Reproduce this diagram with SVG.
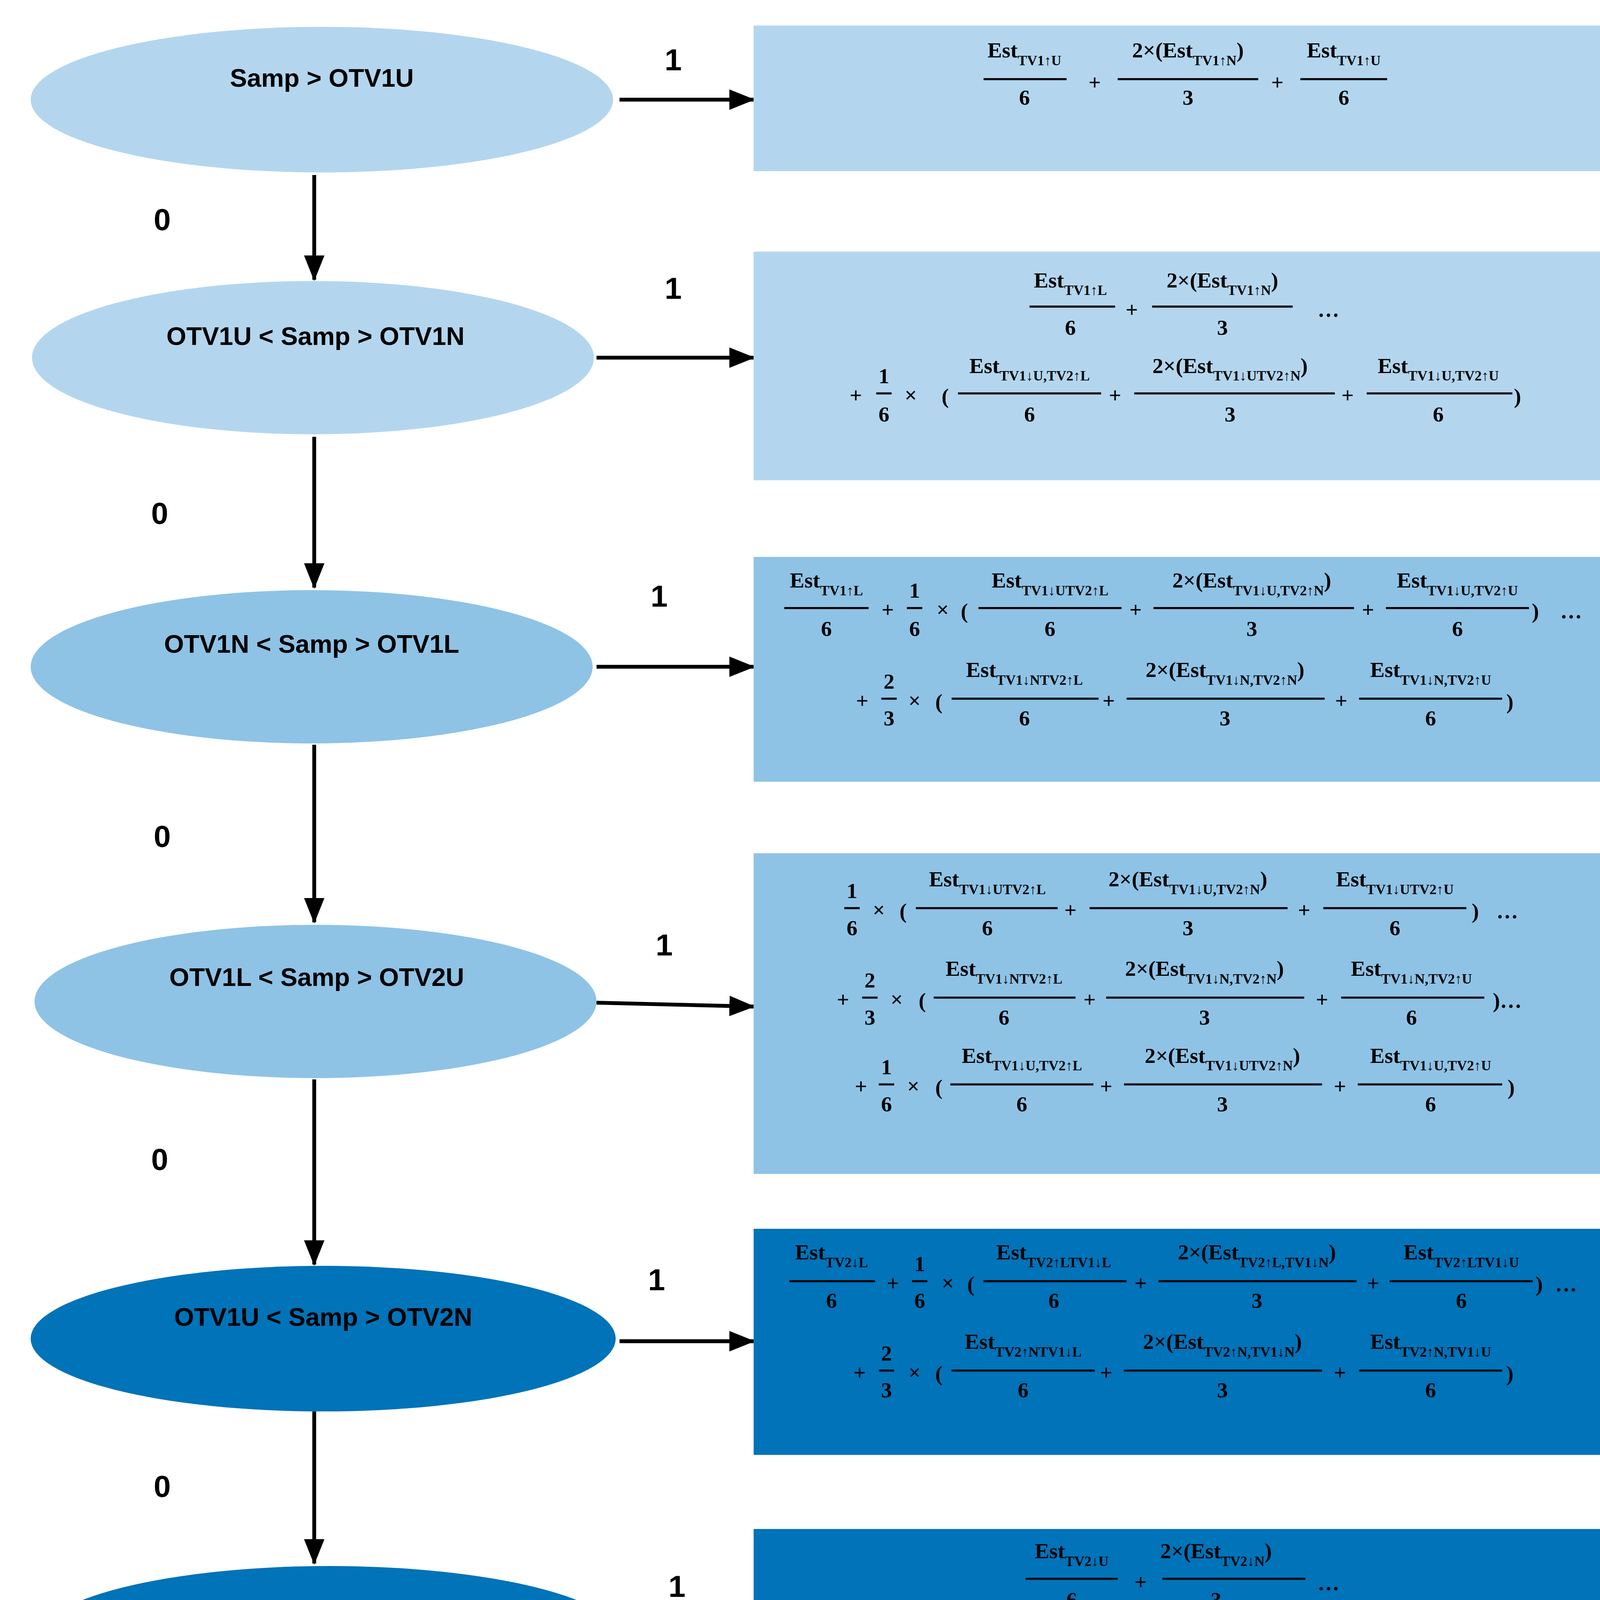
<svg xmlns="http://www.w3.org/2000/svg" width="4185" height="5118" viewBox="0 0 4185 5118">
<style>
.lb{font-family:"Liberation Sans",Arial,sans-serif;font-weight:bold;font-size:20px;fill:#000;text-anchor:middle}
.n{font-family:"Liberation Sans",Arial,sans-serif;font-weight:bold;font-size:24px;fill:#000;text-anchor:middle}
.m{font-family:"Liberation Serif","DejaVu Serif",serif;font-weight:bold;font-size:17px;fill:#000;text-anchor:middle}
.s{font-size:11px}
.fl{stroke:#000;stroke-width:1.6}
.c{stroke:#000;stroke-width:3;fill:none;marker-end:url(#ah)}
.l1{fill:#b3d6ee}.l2{fill:#8ec3e6}.l3{fill:#0073b9}.l4{fill:#004b78}
</style>
<defs>
<marker id="ah" markerUnits="userSpaceOnUse" markerWidth="20" markerHeight="18" refX="19" refY="8" orient="auto"><path d="M0,0 L20,8 L0,16 Z" fill="#000"/></marker>
</defs>
<rect width="4185" height="5118" fill="#fff"/>
<g transform="scale(3.27)">
<g id="connectors">
<line class="c" x1="485" y1="78" x2="590" y2="78"/>
<line class="c" x1="246" y1="137" x2="246" y2="219"/>
<line class="c" x1="467" y1="280" x2="590" y2="280"/>
<line class="c" x1="246" y1="342" x2="246" y2="460"/>
<line class="c" x1="467" y1="522" x2="590" y2="522"/>
<line class="c" x1="246" y1="583" x2="246" y2="722"/>
<line class="c" x1="467" y1="785" x2="590" y2="788"/>
<line class="c" x1="246" y1="845" x2="246" y2="990"/>
<line class="c" x1="485" y1="1050" x2="590" y2="1050"/>
<line class="c" x1="246" y1="1105" x2="246" y2="1224"/>
<line class="c" x1="487" y1="1284" x2="590" y2="1284"/>
<path class="c" d="M242,1340 L242,1494 L590,1494"/>
<text class="n" x="527" y="55">1</text><text class="n" x="127" y="180">0</text>
<text class="n" x="527" y="234">1</text><text class="n" x="125" y="410">0</text>
<text class="n" x="516" y="475">1</text><text class="n" x="127" y="663">0</text>
<text class="n" x="520" y="748">1</text><text class="n" x="125" y="916">0</text>
<text class="n" x="514" y="1010">1</text><text class="n" x="127" y="1172">0</text>
<text class="n" x="530" y="1250">1</text><text class="n" x="125" y="1443">0</text>
</g>
<g id="n1"><ellipse class="l1" cx="252" cy="78" rx="228" ry="57"/><text class="lb" x="252" y="68">Samp &gt; OTV1U</text></g>
<g id="n2"><ellipse class="l1" cx="245" cy="280" rx="220" ry="60"/><text class="lb" x="247" y="270">OTV1U &lt; Samp &gt; OTV1N</text></g>
<g id="n3"><ellipse class="l2" cx="244" cy="522" rx="220" ry="60"/><text class="lb" x="244" y="511">OTV1N &lt; Samp &gt; OTV1L</text></g>
<g id="n4"><ellipse class="l2" cx="247" cy="784" rx="220" ry="60"/><text class="lb" x="248" y="772">OTV1L &lt; Samp &gt; OTV2U</text></g>
<g id="n5"><ellipse class="l3" cx="253" cy="1048" rx="229" ry="57"/><text class="lb" x="253" y="1038">OTV1U &lt; Samp &gt; OTV2N</text></g>
<g id="n6"><ellipse class="l3" cx="258" cy="1284" rx="230" ry="58"/><text class="lb" x="258" y="1275">OTV1N &lt; Samp &gt; OTV2L</text></g>

<g id="b1"><rect class="l1" x="590" y="20" width="678" height="114"/>
<text class="m" x="802" y="45">Est<tspan class="s" dy="6">TV1↑U</tspan></text><line class="fl" x1="770" x2="835" y1="62" y2="62"/><text class="m" x="802" y="82">6</text>
<text class="m" x="857" y="70">+</text>
<text class="m" x="930" y="45">2×(Est<tspan class="s" dy="6">TV1↑N</tspan><tspan dy="-6">)</tspan></text><line class="fl" x1="875" x2="985" y1="62" y2="62"/><text class="m" x="930" y="82">3</text>
<text class="m" x="1000" y="70">+</text>
<text class="m" x="1052" y="45">Est<tspan class="s" dy="6">TV1↑U</tspan></text><line class="fl" x1="1018" x2="1086" y1="62" y2="62"/><text class="m" x="1052" y="82">6</text>
</g>

<g id="b2"><rect class="l1" x="590" y="197" width="680" height="179"/>
<text class="m" x="838" y="225">Est<tspan class="s" dy="6">TV1↑L</tspan></text><line class="fl" x1="806" x2="873" y1="240" y2="240"/><text class="m" x="838" y="262">6</text>
<text class="m" x="886" y="248">+</text>
<text class="m" x="957" y="225">2×(Est<tspan class="s" dy="6">TV1↑N</tspan><tspan dy="-6">)</tspan></text><line class="fl" x1="902" x2="1012" y1="240" y2="240"/><text class="m" x="957" y="262">3</text>
<text class="m" x="1040" y="248">…</text>
<text class="m" x="670" y="315">+</text>
<text class="m" x="692" y="300">1</text><line class="fl" x1="686" x2="698" y1="308" y2="308"/><text class="m" x="692" y="330">6</text>
<text class="m" x="713" y="315">×</text><text class="m" x="740" y="316">(</text>
<text class="m" x="806" y="292">Est<tspan class="s" dy="6">TV1↓U,TV2↑L</tspan></text><line class="fl" x1="750" x2="862" y1="308" y2="308"/><text class="m" x="806" y="330">6</text>
<text class="m" x="873" y="315">+</text>
<text class="m" x="963" y="292">2×(Est<tspan class="s" dy="6">TV1↓UTV2↑N</tspan><tspan dy="-6">)</tspan></text><line class="fl" x1="888" x2="1045" y1="308" y2="308"/><text class="m" x="963" y="330">3</text>
<text class="m" x="1055" y="315">+</text>
<text class="m" x="1126" y="292">Est<tspan class="s" dy="6">TV1↓U,TV2↑U</tspan></text><line class="fl" x1="1070" x2="1184" y1="308" y2="308"/><text class="m" x="1126" y="330">6</text>
<text class="m" x="1188" y="316">)</text>
</g>

<g id="b3"><rect class="l2" x="590" y="436" width="680" height="176"/>
<text class="m" x="647" y="460">Est<tspan class="s" dy="6">TV1↑L</tspan></text><line class="fl" x1="614" x2="680" y1="476" y2="476"/><text class="m" x="647" y="498">6</text>
<text class="m" x="695" y="483">+</text>
<text class="m" x="716" y="468">1</text><line class="fl" x1="710" x2="722" y1="476" y2="476"/><text class="m" x="716" y="498">6</text>
<text class="m" x="738" y="483">×</text><text class="m" x="755" y="484">(</text>
<text class="m" x="822" y="460">Est<tspan class="s" dy="6">TV1↓UTV2↑L</tspan></text><line class="fl" x1="766" x2="878" y1="476" y2="476"/><text class="m" x="822" y="498">6</text>
<text class="m" x="889" y="483">+</text>
<text class="m" x="980" y="460">2×(Est<tspan class="s" dy="6">TV1↓U,TV2↑N</tspan><tspan dy="-6">)</tspan></text><line class="fl" x1="903" x2="1060" y1="476" y2="476"/><text class="m" x="980" y="498">3</text>
<text class="m" x="1071" y="483">+</text>
<text class="m" x="1141" y="460">Est<tspan class="s" dy="6">TV1↓U,TV2↑U</tspan></text><line class="fl" x1="1085" x2="1197" y1="476" y2="476"/><text class="m" x="1141" y="498">6</text>
<text class="m" x="1202" y="484">)</text><text class="m" x="1230" y="484">…</text>
<text class="m" x="675" y="554">+</text>
<text class="m" x="696" y="539">2</text><line class="fl" x1="690" x2="702" y1="547" y2="547"/><text class="m" x="696" y="568">3</text>
<text class="m" x="716" y="554">×</text><text class="m" x="735" y="555">(</text>
<text class="m" x="802" y="530">Est<tspan class="s" dy="6">TV1↓NTV2↑L</tspan></text><line class="fl" x1="745" x2="860" y1="547" y2="547"/><text class="m" x="802" y="568">6</text>
<text class="m" x="868" y="554">+</text>
<text class="m" x="959" y="530">2×(Est<tspan class="s" dy="6">TV1↓N,TV2↑N</tspan><tspan dy="-6">)</tspan></text><line class="fl" x1="882" x2="1037" y1="547" y2="547"/><text class="m" x="959" y="568">3</text>
<text class="m" x="1050" y="554">+</text>
<text class="m" x="1120" y="530">Est<tspan class="s" dy="6">TV1↓N,TV2↑U</tspan></text><line class="fl" x1="1064" x2="1176" y1="547" y2="547"/><text class="m" x="1120" y="568">6</text>
<text class="m" x="1182" y="555">)</text>
</g>

<g id="b4"><rect class="l2" x="590" y="668" width="675" height="251"/>
<text class="m" x="667" y="703">1</text><line class="fl" x1="661" x2="673" y1="711" y2="711"/><text class="m" x="667" y="732">6</text>
<text class="m" x="688" y="718">×</text><text class="m" x="707" y="719">(</text>
<text class="m" x="773" y="694">Est<tspan class="s" dy="6">TV1↓UTV2↑L</tspan></text><line class="fl" x1="717" x2="828" y1="711" y2="711"/><text class="m" x="773" y="732">6</text>
<text class="m" x="838" y="718">+</text>
<text class="m" x="930" y="694">2×(Est<tspan class="s" dy="6">TV1↓U,TV2↑N</tspan><tspan dy="-6">)</tspan></text><line class="fl" x1="853" x2="1008" y1="711" y2="711"/><text class="m" x="930" y="732">3</text>
<text class="m" x="1021" y="718">+</text>
<text class="m" x="1092" y="694">Est<tspan class="s" dy="6">TV1↓UTV2↑U</tspan></text><line class="fl" x1="1036" x2="1148" y1="711" y2="711"/><text class="m" x="1092" y="732">6</text>
<text class="m" x="1155" y="719">)</text><text class="m" x="1180" y="719">…</text>
<text class="m" x="660" y="788">+</text>
<text class="m" x="681" y="773">2</text><line class="fl" x1="675" x2="687" y1="781" y2="781"/><text class="m" x="681" y="802">3</text>
<text class="m" x="702" y="788">×</text><text class="m" x="722" y="789">(</text>
<text class="m" x="786" y="764">Est<tspan class="s" dy="6">TV1↓NTV2↑L</tspan></text><line class="fl" x1="731" x2="842" y1="781" y2="781"/><text class="m" x="786" y="802">6</text>
<text class="m" x="853" y="788">+</text>
<text class="m" x="943" y="764">2×(Est<tspan class="s" dy="6">TV1↓N,TV2↑N</tspan><tspan dy="-6">)</tspan></text><line class="fl" x1="866" x2="1021" y1="781" y2="781"/><text class="m" x="943" y="802">3</text>
<text class="m" x="1035" y="788">+</text>
<text class="m" x="1105" y="764">Est<tspan class="s" dy="6">TV1↓N,TV2↑U</tspan></text><line class="fl" x1="1050" x2="1162" y1="781" y2="781"/><text class="m" x="1105" y="802">6</text>
<text class="m" x="1180" y="789">)…</text>
<text class="m" x="674" y="856">+</text>
<text class="m" x="694" y="841">1</text><line class="fl" x1="688" x2="700" y1="849" y2="849"/><text class="m" x="694" y="870">6</text>
<text class="m" x="715" y="856">×</text><text class="m" x="735" y="857">(</text>
<text class="m" x="800" y="832">Est<tspan class="s" dy="6">TV1↓U,TV2↑L</tspan></text><line class="fl" x1="744" x2="856" y1="849" y2="849"/><text class="m" x="800" y="870">6</text>
<text class="m" x="866" y="856">+</text>
<text class="m" x="957" y="832">2×(Est<tspan class="s" dy="6">TV1↓UTV2↑N</tspan><tspan dy="-6">)</tspan></text><line class="fl" x1="880" x2="1035" y1="849" y2="849"/><text class="m" x="957" y="870">3</text>
<text class="m" x="1049" y="856">+</text>
<text class="m" x="1120" y="832">Est<tspan class="s" dy="6">TV1↓U,TV2↑U</tspan></text><line class="fl" x1="1063" x2="1176" y1="849" y2="849"/><text class="m" x="1120" y="870">6</text>
<text class="m" x="1183" y="857">)</text>
</g>

<g id="b5"><rect class="l3" x="590" y="962" width="673" height="177"/>
<text class="m" x="651" y="986">Est<tspan class="s" dy="6">TV2↓L</tspan></text><line class="fl" x1="618" x2="685" y1="1003" y2="1003"/><text class="m" x="651" y="1024">6</text>
<text class="m" x="699" y="1010">+</text>
<text class="m" x="720" y="995">1</text><line class="fl" x1="714" x2="726" y1="1003" y2="1003"/><text class="m" x="720" y="1024">6</text>
<text class="m" x="742" y="1010">×</text><text class="m" x="760" y="1011">(</text>
<text class="m" x="825" y="986">Est<tspan class="s" dy="6">TV2↑LTV1↓L</tspan></text><line class="fl" x1="770" x2="882" y1="1003" y2="1003"/><text class="m" x="825" y="1024">6</text>
<text class="m" x="893" y="1010">+</text>
<text class="m" x="984" y="986">2×(Est<tspan class="s" dy="6">TV2↑L,TV1↓N</tspan><tspan dy="-6">)</tspan></text><line class="fl" x1="907" x2="1062" y1="1003" y2="1003"/><text class="m" x="984" y="1024">3</text>
<text class="m" x="1075" y="1010">+</text>
<text class="m" x="1144" y="986">Est<tspan class="s" dy="6">TV2↑LTV1↓U</tspan></text><line class="fl" x1="1088" x2="1200" y1="1003" y2="1003"/><text class="m" x="1144" y="1024">6</text>
<text class="m" x="1205" y="1011">)</text><text class="m" x="1226" y="1011">…</text>
<text class="m" x="673" y="1080">+</text>
<text class="m" x="694" y="1065">2</text><line class="fl" x1="688" x2="700" y1="1073" y2="1073"/><text class="m" x="694" y="1094">3</text>
<text class="m" x="716" y="1080">×</text><text class="m" x="735" y="1081">(</text>
<text class="m" x="801" y="1056">Est<tspan class="s" dy="6">TV2↑NTV1↓L</tspan></text><line class="fl" x1="745" x2="857" y1="1073" y2="1073"/><text class="m" x="801" y="1094">6</text>
<text class="m" x="866" y="1080">+</text>
<text class="m" x="957" y="1056">2×(Est<tspan class="s" dy="6">TV2↑N,TV1↓N</tspan><tspan dy="-6">)</tspan></text><line class="fl" x1="880" x2="1035" y1="1073" y2="1073"/><text class="m" x="957" y="1094">3</text>
<text class="m" x="1049" y="1080">+</text>
<text class="m" x="1120" y="1056">Est<tspan class="s" dy="6">TV2↑N,TV1↓U</tspan></text><line class="fl" x1="1064" x2="1176" y1="1073" y2="1073"/><text class="m" x="1120" y="1094">6</text>
<text class="m" x="1182" y="1081">)</text>
</g>

<g id="b6"><rect class="l3" x="590" y="1197" width="677" height="179"/>
<text class="m" x="839" y="1220">Est<tspan class="s" dy="6">TV2↓U</tspan></text><line class="fl" x1="803" x2="875" y1="1236" y2="1236"/><text class="m" x="839" y="1258">6</text>
<text class="m" x="893" y="1244">+</text>
<text class="m" x="952" y="1220">2×(Est<tspan class="s" dy="6">TV2↓N</tspan><tspan dy="-6">)</tspan></text><line class="fl" x1="910" x2="1022" y1="1236" y2="1236"/><text class="m" x="952" y="1258">3</text>
<text class="m" x="1040" y="1245">…</text>
<text class="m" x="676" y="1313">+</text>
<text class="m" x="698" y="1298">1</text><line class="fl" x1="692" x2="704" y1="1306" y2="1306"/><text class="m" x="698" y="1328">6</text>
<text class="m" x="719" y="1313">×</text><text class="m" x="738" y="1314">(</text>
<text class="m" x="803" y="1290">Est<tspan class="s" dy="6">TV2↑LTV1↓L</tspan></text><line class="fl" x1="748" x2="858" y1="1306" y2="1306"/><text class="m" x="803" y="1328">6</text>
<text class="m" x="871" y="1313">+</text>
<text class="m" x="961" y="1290">2×(Est<tspan class="s" dy="6">TV2↑L,TV1↓N</tspan><tspan dy="-6">)</tspan></text><line class="fl" x1="884" x2="1038" y1="1306" y2="1306"/><text class="m" x="961" y="1328">3</text>
<text class="m" x="1051" y="1313">+</text>
<text class="m" x="1121" y="1290">Est<tspan class="s" dy="6">TV2↑LTV1↓U</tspan></text><line class="fl" x1="1065" x2="1178" y1="1306" y2="1306"/><text class="m" x="1121" y="1328">6</text>
<text class="m" x="1183" y="1314">)</text>
</g>

<g id="b7"><rect class="l4" x="590" y="1440" width="678" height="115"/>
<text class="m" x="806" y="1463">Est<tspan class="s" dy="6">TV2↓U</tspan></text><line class="fl" x1="770" x2="842" y1="1480" y2="1480"/><text class="m" x="806" y="1500">6</text>
<text class="m" x="862" y="1487">+</text>
<text class="m" x="935" y="1463">2×(Est<tspan class="s" dy="6">TV2↓N</tspan><tspan dy="-6">)</tspan></text><line class="fl" x1="878" x2="992" y1="1480" y2="1480"/><text class="m" x="935" y="1500">3</text>
<text class="m" x="1003" y="1487">+</text>
<text class="m" x="1054" y="1463">Est<tspan class="s" dy="6">TV2↓U</tspan></text><line class="fl" x1="1018" x2="1090" y1="1480" y2="1480"/><text class="m" x="1054" y="1500">6</text>
</g>
</g>
</svg>
